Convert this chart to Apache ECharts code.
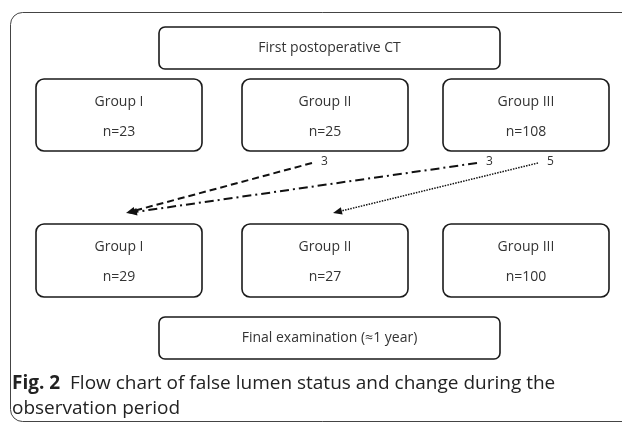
<!DOCTYPE html>
<html>
<head>
<meta charset="utf-8">
<script src="https://cdn.jsdelivr.net/npm/echarts@6/dist/echarts.min.js"></script>
<style>html,body{margin:0;padding:0;background:#fff;}#c{width:622px;height:423px;}</style>
</head>
<body>
<div id="c"></div>
<script>
// ---- data ----
const stages = ['First postoperative CT', 'Final examination (\u22481 year)'];
const groups = ['Group I', 'Group II', 'Group III'];
const countsFirst = [23, 25, 108];
const countsFinal = [29, 27, 100];
const transFrom = ['Group II', 'Group III', 'Group III'];
const transTo = ['Group I', 'Group I', 'Group II'];
const transCount = [3, 3, 5];
const captionBold = 'Fig. 2';
const captionText = 'Flow chart of false lumen status and change during the\nobservation period';

// ---- layout (not data) ----
const W = 622, H = 423;
const colCenter = [119, 325, 526];
const boxW = 166;
const rowTop = [79, 224];
const rowH = [72, 73];
const stageX = [159, 500];
const stageTop = [27, 317];
const stageH = 42;
const transStartOff = [-13, -49, 12];
const transEndOff = [7, 9, 8];
const transY = [163, 213];
const transDash = [[7, 4], [9, 4, 2, 4], [1.5, 1.2]];
const transWidth = [2, 2, 1.5];
const FONT = '"Open Sans", "Noto Sans", sans-serif';

const groupData = [];
countsFirst.forEach((v, i) => groupData.push([i, 0, v]));
countsFinal.forEach((v, i) => groupData.push([i, 1, v]));
const stageData = stages.map((s, i) => [i]);
const transData = transCount.map((n, i) => [groups.indexOf(transFrom[i]), groups.indexOf(transTo[i]), n, i]);

const chart = echarts.init(document.getElementById('c'), null, {renderer: 'canvas'});
chart.setOption({
  backgroundColor: '#fff',
  animation: false,
  grid: {left: 0, right: 0, top: 0, bottom: 0},
  xAxis: {type: 'value', min: 0, max: W, show: false},
  yAxis: {type: 'value', min: 0, max: H, inverse: true, show: false},
  title: {
    left: 12, top: 371, padding: 0,
    text: '{b|' + captionBold + '}  ' + captionText.split('\n')[0] + '\n' + captionText.split('\n')[1],
    textStyle: {
      fontFamily: FONT, fontSize: 19, fontWeight: 'normal', color: '#222', lineHeight: 25,
      rich: {b: {fontFamily: FONT, fontSize: 19, fontWeight: 'bold', color: '#222', lineHeight: 25}}
    }
  },
  series: [
    {
      type: 'custom', silent: true, data: [[0]],
      renderItem: function (params, api) {
        const p0 = api.coord([10.5, 12.5]);
        const p1 = api.coord([W + 20, 421.5]);
        return {type: 'rect', shape: {x: p0[0], y: p0[1], width: p1[0] - p0[0], height: p1[1] - p0[1], r: 12},
          style: {fill: 'none', stroke: '#444', lineWidth: 1}};
      }
    },
    {
      type: 'custom', silent: true, data: stageData,
      renderItem: function (params, api) {
        const i = api.value(0);
        const p0 = api.coord([stageX[0], stageTop[i]]);
        const p1 = api.coord([stageX[1], stageTop[i] + stageH]);
        return {type: 'group', children: [
          {type: 'rect', shape: {x: p0[0], y: p0[1], width: p1[0] - p0[0], height: p1[1] - p0[1], r: 6},
            style: {fill: '#fff', stroke: '#1a1a1a', lineWidth: 1.6}},
          {type: 'text', style: {text: stages[i], x: (p0[0] + p1[0]) / 2, y: (p0[1] + p1[1]) / 2,
            align: 'center', verticalAlign: 'middle', fontFamily: FONT, fontSize: 14, fill: '#333'}}
        ]};
      }
    },
    {
      type: 'custom', silent: true, data: groupData,
      renderItem: function (params, api) {
        const c = api.value(0), r = api.value(1), n = api.value(2);
        const p0 = api.coord([colCenter[c] - boxW / 2, rowTop[r]]);
        const p1 = api.coord([colCenter[c] + boxW / 2, rowTop[r] + rowH[r]]);
        const cx = (p0[0] + p1[0]) / 2;
        return {type: 'group', children: [
          {type: 'rect', shape: {x: p0[0], y: p0[1], width: p1[0] - p0[0], height: p1[1] - p0[1], r: 8},
            style: {fill: '#fff', stroke: '#1a1a1a', lineWidth: 1.6}},
          {type: 'text', style: {text: groups[c], x: cx, y: p0[1] + 23,
            align: 'center', verticalAlign: 'middle', fontFamily: FONT, fontSize: 14, fill: '#333'}},
          {type: 'text', style: {text: 'n=' + n, x: cx, y: p0[1] + 53,
            align: 'center', verticalAlign: 'middle', fontFamily: FONT, fontSize: 14, fill: '#333'}}
        ]};
      }
    },
    {
      type: 'custom', silent: true, data: transData,
      renderItem: function (params, api) {
        const f = api.value(0), t = api.value(1), n = api.value(2), k = api.value(3);
        const s = api.coord([colCenter[f] + transStartOff[k], transY[0]]);
        const e = api.coord([colCenter[t] + transEndOff[k], transY[1]]);
        const dx = e[0] - s[0], dy = e[1] - s[1];
        const L = Math.sqrt(dx * dx + dy * dy);
        const ux = dx / L, uy = dy / L;
        const hl = 9, hw = 3.8;
        const bx = e[0] - ux * hl, by = e[1] - uy * hl;
        return {type: 'group', children: [
          {type: 'line', shape: {x1: s[0], y1: s[1], x2: bx + ux * 2, y2: by + uy * 2},
            style: {stroke: '#111', lineWidth: transWidth[k], lineDash: transDash[k]}},
          {type: 'polygon', shape: {points: [[e[0], e[1]], [bx - uy * hw, by + ux * hw], [bx + uy * hw, by - ux * hw]]},
            style: {fill: '#111'}},
          {type: 'text', style: {text: String(n), x: s[0] + 9, y: s[1] - 1,
            align: 'left', verticalAlign: 'middle', fontFamily: FONT, fontSize: 12, fill: '#333'}}
        ]};
      }
    }
  ]
});
</script>
</body>
</html>
